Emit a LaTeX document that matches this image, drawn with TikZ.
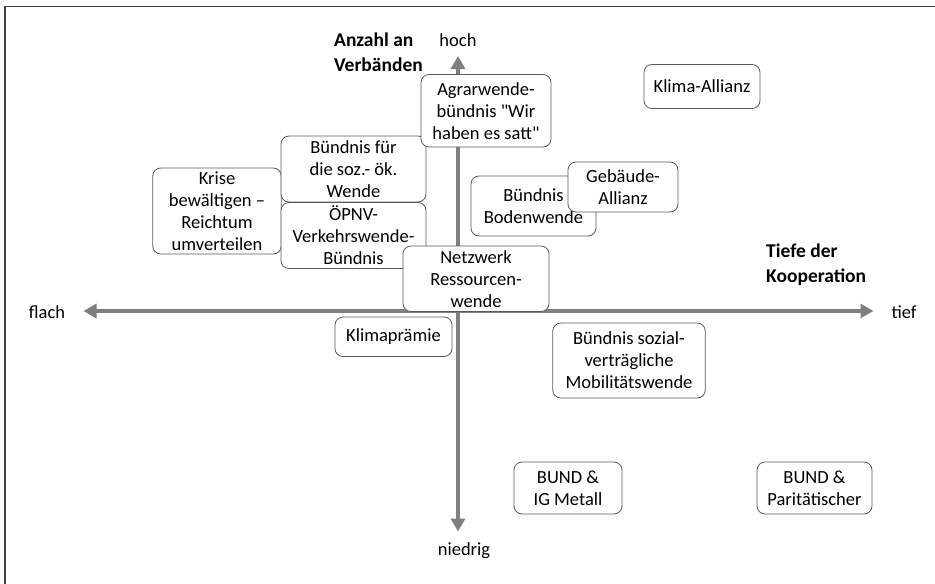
\documentclass[tikz,border=0pt]{standalone}
\usepackage{fontspec}
\setmainfont{Carlito}
\usepackage{tikz}
\usetikzlibrary{arrows.meta}
\definecolor{axisgray}{HTML}{7F7F7F}
\definecolor{boxline}{HTML}{595959}
\tikzset{>=latex}
\tikzset{box/.style={draw=boxline,line width=0.8pt,fill=white,rounded corners=8pt,inner sep=0pt,align=center,font=\fontsize{18.5}{22}\selectfont}}
\tikzset{axis/.style={draw=axisgray,line width=4.5pt,{Triangle[length=13pt,width=14pt]}-{Triangle[length=13pt,width=14pt]}}}
\tikzset{lbl/.style={inner sep=0pt,font=\fontsize{18.5}{22}\selectfont}}
\tikzset{title/.style={inner sep=0pt,align=left,font=\fontsize{19.5}{25}\selectfont\bfseries}}

\begin{document}
\begin{tikzpicture}[x=1pt,y=-1pt]
                    \useasboundingbox (0,0) rectangle (935,584);
                    \draw[line width=1.5pt,draw=black!75] (5,584) -- (5,6.5) -- (935,6.5);

                    \coordinate (L) at (83.5,311);
                    \coordinate (R) at (873.5,311);
                    \coordinate (T) at (458,56);
                    \coordinate (B) at (458,531.5);

                    \draw[axis] (L) -- (R);
                    \draw[axis] (T) -- (B);

                    \node[lbl] (flach) at (47,312) {flach};
                    \node[lbl] (tief) at (904,312) {tief};
                    \node[lbl,anchor=base] (hoch) at (458,46) {hoch};
                    \node[lbl,anchor=base] (niedrig) at (464,555) {niedrig};
                    \node[title,anchor=west] (anzahl) at (334,52) {Anzahl an\\Verbänden};
                    \node[title,anchor=west] (tiefe) at (766,264.5) {Tiefe der\\Kooperation};

                    \node[box,minimum width=128.5pt,minimum height=86pt] (krise) at (217,211) {Krise\\bewältigen --\\Reichtum\\umverteilen};
                    \node[box,minimum width=145pt,minimum height=66pt] (fuer) at (353.5,169) {Bündnis für\\die soz.- ök.\\Wende};
                    \node[box,minimum width=145pt,minimum height=66pt] (oepnv) at (353.5,235.5) {ÖPNV-\\Verkehrswende-\\Bündnis};
                    \node[box,minimum width=146pt,minimum height=65.5pt] (netz) at (476,278.75) {Netzwerk\\Ressourcen-\\wende};
                    \node[box,minimum width=130pt,minimum height=72.5pt] (agrar) at (486,110.75) {Agrarwende-\\bündnis \textquotedbl Wir\\haben es satt\textquotedbl};
                    \node[box,minimum width=116pt,minimum height=44pt] (klima) at (702,86.5) {Klima-Allianz};
                    \node[box,minimum width=125pt,minimum height=60pt] (boden) at (533.5,206) {Bündnis\\Bodenwende};
                    \node[box,minimum width=110pt,minimum height=50pt] (gebaeude) at (623,187) {Gebäude-\\Allianz};
                    \node[box,minimum width=117pt,minimum height=39.5pt] (praemie) at (393.5,336.75) {Klimaprämie};
                    \node[box,minimum width=152.5pt,minimum height=75pt] (sozial) at (629,360.5) {Bündnis sozial-\\verträgliche\\Mobilitätswende};
                    \node[box,minimum width=108pt,minimum height=52pt] (igm) at (568,488) {BUND \&\\IG Metall};
                    \node[box,minimum width=115pt,minimum height=52pt] (parit) at (814.5,488) {BUND \&\\Paritätischer};

                \end{tikzpicture}
\end{document}
